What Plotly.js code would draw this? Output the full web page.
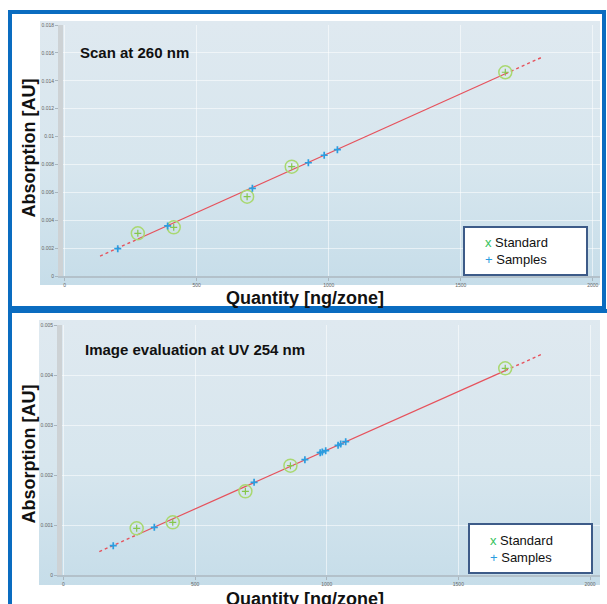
<!DOCTYPE html>
<html><head><meta charset="utf-8">
<script src="https://cdn.plot.ly/plotly-3.0.1.min.js"></script>
<style>
body{margin:0;background:#fff;width:607px;height:604px;overflow:hidden;position:relative;font-family:"Liberation Sans",Arial,sans-serif;}
.frame{position:absolute;box-sizing:border-box;border:4px solid #0a6cc0;}
.bg{position:absolute;background:linear-gradient(to bottom,#dfe9f0 0%,#d7e6ee 55%,#c6dde9 100%);}
.chart{position:absolute;left:0;width:607px;}
</style></head>
<body>
<div class="frame" style="left:8px;top:10px;width:598px;height:300px"></div>
<div class="frame" style="left:8px;top:309px;width:640px;height:400px"></div>
<div class="bg" style="left:40px;top:21px;width:560px;height:264px"></div>
<div class="bg" style="left:39px;top:320px;width:561px;height:265px"></div>
<div id="c1" class="chart" style="top:0;height:310px"></div>
<div id="c2" class="chart" style="top:310px;height:294px"></div>
<script>
// ---------- data: Scan at 260 nm ----------
var scanStdX = [277, 413, 691, 860, 1669];
var scanStdY = [0.00306, 0.00349, 0.00569, 0.00784, 0.01461];
var scanSmpX = [201, 390, 711, 923, 983, 1033];
var scanSmpY = [0.00196, 0.00359, 0.00629, 0.00812, 0.00866, 0.00906];
var scanFitX = [134, 277, 1669, 1807];
var scanFitY = [0.00143, 0.00265, 0.01450, 0.01568];
var scanYTicks = [0, 0.002, 0.004, 0.006, 0.008, 0.01, 0.012, 0.014, 0.016, 0.018];
var scanYLabels = ['0', '0.002', '0.004', '0.006', '0.008', '0.01', '0.012', '0.014', '0.016', '0.018'];

// ---------- data: Image evaluation at UV 254 nm ----------
var imgStdX = [278, 415, 691, 862, 1678];
var imgStdY = [0.000933, 0.001053, 0.001673, 0.002187, 0.004133];
var imgSmpX = [189, 345, 724, 917, 975, 983, 996, 1043, 1053, 1072];
var imgSmpY = [0.000587, 0.000953, 0.001853, 0.002307, 0.002447, 0.002460, 0.002487, 0.002593, 0.002620, 0.002667];
var imgFitX = [136, 278, 1678, 1817];
var imgFitY = [0.000467, 0.000801, 0.004088, 0.004414];
var imgYTicks = [0, 0.001, 0.002, 0.003, 0.004, 0.005];
var imgYLabels = ['0', '0.001', '0.002', '0.003', '0.004', '0.005'];

var xTicks = [0, 500, 1000, 1500, 2000];
var xLabels = ['0', '500', '1000', '1500', '2000'];

var titles = ['Scan at 260 nm', 'Image evaluation at UV 254 nm'];
var xTitle = 'Quantity [ng/zone]';
var yTitle = 'Absorption [AU]';
var legendNames = ['Standard', 'Samples'];

var FONT = '"Liberation Sans", Arial, sans-serif';

function build(el, d, g) {
  var W = 607, H = g.H;
  var pw = W - g.l - g.r, ph = H - g.t - g.b;
  function px(x) { return (x - g.l) / pw; }
  function py(y) { return (H - g.b - y) / ph; }
  var red = '#e6525c';
  var traces = [
    {x: [d.fitX[0], d.fitX[1], null, d.fitX[2], d.fitX[3]],
     y: [d.fitY[0], d.fitY[1], null, d.fitY[2], d.fitY[3]],
     mode: 'lines', line: {color: red, width: 1.4, dash: 'dot'}, hoverinfo: 'skip'},
    {x: d.fitX.slice(1, 3), y: d.fitY.slice(1, 3),
     mode: 'lines', line: {color: red, width: 1.2}, hoverinfo: 'skip'},
    {x: d.stdX, y: d.stdY, mode: 'markers', name: legendNames[0],
     marker: {symbol: 'circle-open', size: 13, line: {width: 1.5, color: '#a9d871'}, color: '#a9d871'}},
    {x: d.stdX, y: d.stdY, mode: 'markers',
     marker: {symbol: 'cross-thin-open', size: 5, line: {width: 1.2, color: '#86c64c'}, color: '#86c64c'}},
    {x: d.smpX, y: d.smpY, mode: 'markers', name: legendNames[1],
     marker: {symbol: 'cross-thin-open', size: 5, line: {width: 1.7, color: '#2a9de0'}, color: '#2a9de0'}}
  ];
  var axCommon = {
    ticks: 'outside', ticklen: 3, tickcolor: '#a9b5bd', tickwidth: 1,
    tickfont: {size: 5, color: '#666', family: FONT},
    showgrid: true, gridcolor: 'rgba(255,255,255,0.55)', gridwidth: 1,
    zeroline: false, showline: true, fixedrange: true
  };
  var layout = {
    width: W, height: H,
    margin: {l: g.l, r: g.r, t: g.t, b: g.b, pad: 0},
    paper_bgcolor: 'rgba(0,0,0,0)', plot_bgcolor: 'rgba(0,0,0,0)',
    showlegend: false,
    font: {family: FONT, color: '#000'},
    xaxis: Object.assign({}, axCommon, {range: g.xr, tickmode: 'array', tickvals: xTicks, ticktext: xLabels,
      linecolor: '#b3c1ca', linewidth: 2}),
    yaxis: Object.assign({}, axCommon, {range: g.yr, tickmode: 'array', tickvals: d.yTicks, ticktext: d.yLabels,
      linecolor: '#cdd2d5', linewidth: 5}),
    shapes: [
      {type: 'rect', xref: 'paper', yref: 'paper', x0: px(g.lg[0]), x1: px(g.lg[1]), y0: py(g.lg[3]), y1: py(g.lg[2]),
       fillcolor: '#ffffff', line: {color: '#3d5b88', width: 2}}
    ],
    annotations: [
      {text: '<b>' + d.title + '</b>', xref: 'paper', yref: 'paper', x: px(g.title[0]), y: py(g.title[1]),
       xanchor: 'left', yanchor: 'middle', showarrow: false, font: {size: 15, color: '#111'}},
      {text: '<b>' + yTitle + '</b>', xref: 'paper', yref: 'paper', x: px(g.ytitle[0]), y: py(g.ytitle[1]),
       xanchor: 'center', yanchor: 'middle', textangle: -90, showarrow: false, font: {size: 18, color: '#111'}},
      {text: '<b>' + xTitle + '</b>', xref: 'paper', yref: 'paper', x: px(g.xtitle[0]), y: py(g.xtitle[1]),
       xanchor: 'center', yanchor: 'middle', showarrow: false, font: {size: 18, color: '#111'}},
      {text: "<span style='color:#35c25c'>x</span> " + legendNames[0], xref: 'paper', yref: 'paper',
       x: px(g.leg[0]), y: py(g.leg[1]), xanchor: 'left', yanchor: 'middle', showarrow: false,
       font: {size: 13, color: '#111'}},
      {text: "<span style='color:#2a9de0'>+</span> " + legendNames[1], xref: 'paper', yref: 'paper',
       x: px(g.leg[0]), y: py(g.leg[2]), xanchor: 'left', yanchor: 'middle', showarrow: false,
       font: {size: 13, color: '#111'}}
    ]
  };
  Plotly.newPlot(el, traces, layout, {staticPlot: true, displayModeBar: false});
}

build('c1', {stdX: scanStdX, stdY: scanStdY, smpX: scanSmpX, smpY: scanSmpY, fitX: scanFitX, fitY: scanFitY,
  yTicks: scanYTicks, yLabels: scanYLabels, title: titles[0]},
  {H: 310, l: 63, r: 7, t: 25, b: 34, xr: [-6.4, 2027.7], yr: [0, 0.018],
   lg: [464, 587, 227, 275], leg: [483, 242.7, 259], title: [78, 52], ytitle: [28, 148.5], xtitle: [305, 297.5]});

build('c2', {stdX: imgStdX, stdY: imgStdY, smpX: imgSmpX, smpY: imgSmpY, fitX: imgFitX, fitY: imgFitY,
  yTicks: imgYTicks, yLabels: imgYLabels, title: titles[1]},
  {H: 294, l: 62, r: 7, t: 15, b: 29, xr: [-5.7, 2038], yr: [0, 0.005],
   lg: [469, 592, 214, 263], leg: [488, 230.7, 247.3], title: [83, 40], ytitle: [28, 144.5], xtitle: [305, 289]});
</script>
</body></html>
